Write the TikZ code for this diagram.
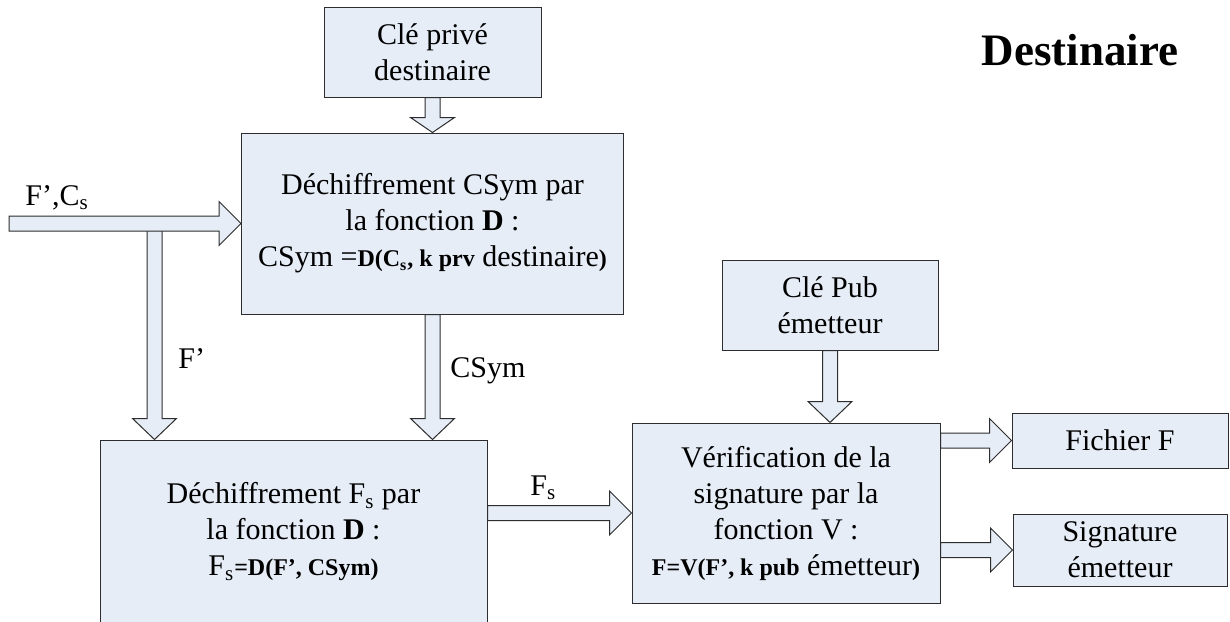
\documentclass[tikz,border=0pt]{standalone}
\usepackage{fontspec}
\setmainfont{Liberation Serif}
\usetikzlibrary{positioning,calc}

\definecolor{boxfill}{RGB}{230,237,247}
\definecolor{boxline}{RGB}{45,45,45}

% smaller bold part inside a formula line
\newcommand{\bsmall}[1]{{\fontsize{12}{18}\selectfont\bfseries #1}}

% hollow block arrows: #1 head length, #2 start, #3 target
\newcommand{\vflow}[3][21]{%
  \draw[flow] ($(#2)+(-7.5,0)$) -- ($(#2 |- #3)+(-7.5,-#1)$) -- ($(#2 |- #3)+(-22,-#1)$)
    -- (#2 |- #3) -- ($(#2 |- #3)+(22,-#1)$) -- ($(#2 |- #3)+(7.5,-#1)$) -- ($(#2)+(7.5,0)$) -- cycle;}
\newcommand{\hflow}[3][22]{%
  \draw[flow] ($(#3 -| #2)+(0,-7.5)$) -- ($(#3)+(-#1,-7.5)$) -- ($(#3)+(-#1,-22)$)
    -- (#3) -- ($(#3)+(-#1,22)$) -- ($(#3)+(-#1,7.5)$) -- ($(#3 -| #2)+(0,7.5)$) -- cycle;}

\tikzset{
  box/.style={draw=boxline, fill=boxfill, line width=0.5pt, align=center, inner sep=0pt,
    font=\fontsize{15}{18}\selectfont},
  flow/.style={draw=boxline, fill=boxfill, line width=0.5pt, line join=miter},
  lbl/.style={inner sep=0pt, anchor=base west, font=\fontsize{15}{18}\selectfont},
  title/.style={inner sep=0pt, anchor=base, font=\fontsize{22.5}{27}\selectfont\bfseries}
}

\begin{document}
\begin{tikzpicture}[x=0.5pt,y=-0.5pt]
  \useasboundingbox (0,0) rectangle (1230,621);

  % boxes
  \node (a) [box, minimum width=108.5pt, minimum height=45pt] at (432.5,52) {Clé privé\\destinaire};
  \node (b) [box, minimum width=191pt, minimum height=90.5pt, below=17.5pt of a]
        {Déchiffrement CSym par\\la fonction \textbf{D} :\\CSym =\bsmall{D(C\textsubscript{s}, k prv} destinaire\bsmall{)}};
  \node (c) [box, minimum width=193.5pt, minimum height=92pt] at (293.5,532)
        {Déchiffrement F\textsubscript{s} par\\la fonction \textbf{D} :\\F\textsubscript{s}\bsmall{=D(F’, CSym)}};
  \node (e) [box, minimum width=108pt, minimum height=45pt] at (830,305) {Clé Pub\\émetteur};
  \node (d) [box, minimum width=154pt, minimum height=90pt] at (786,513)
        {Vérification de la\\signature par la\\fonction V :\\\bsmall{F=V(F’, k pub} émetteur\bsmall{)}};
  \node (fich) [box, minimum width=108pt, minimum height=27.5pt] at (1120,440.5) {Fichier F};
  \node (sig) [box, minimum width=107pt, minimum height=36pt, below=22.5pt of fich] {Signature\\émetteur};

  % flows
  \coordinate (fin) at (9,223);
  \coordinate (split) at (154.5,230);
  \vflow{split}{c.north}
  \hflow{fin}{b.west}
  \vflow[15]{a.south}{b.north}
  \vflow{b.south}{c.north}
  \vflow{e.south}{d.north}
  \hflow{c.east}{d.west}
  \hflow{d.east}{fich.west}
  \hflow{d.east}{sig.west}

  % labels
  \node[lbl] (fcs) at (25,205) {F’,C\textsubscript{s}};
  \node[lbl] (fp) at (178,368) {F’};
  \node[lbl] (csym) at (450,377) {CSym};
  \node[lbl] (fs) at (530,495) {F\textsubscript{s}};
  \node[title] (dest) at (1080,65) {Destinaire};
\end{tikzpicture}
\end{document}
